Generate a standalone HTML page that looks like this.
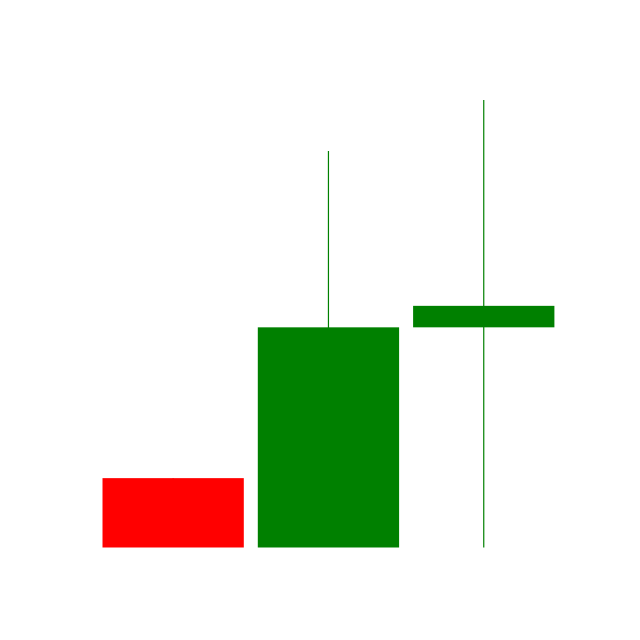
<!DOCTYPE html>
<html><head><meta charset="utf-8"><style>html,body{margin:0;padding:0;background:#fff;}svg{display:block;}</style></head>
<body>
<svg id="chart" width="640" height="640" xmlns="http://www.w3.org/2000/svg">
<rect width="640" height="640" fill="#fff"/>
<g id="marks"></g>
</svg>
<script>
const categories = ["c1","c2","c3"];
const openVals = [15.5, 0, 49.2];
const closeVals = [0, 49.2, 54.0];
const highVals = [15.5, 88.6, 100];
const lowVals = [0, 0, 0];

const x0 = 95.5, bandW = 155.3, pad = 7;
const yBase = 547.5, yTop = 100;
function xScale(i){ return x0 + i*bandW; }
function yScale(v){ return yBase - (v/100)*(yBase - yTop); }
const NS = "http://www.w3.org/2000/svg";
const g = document.getElementById("marks");
categories.forEach((c,i)=>{
  const up = closeVals[i] >= openVals[i];
  const col = up ? "#008000" : "#ff0000";
  const cx = xScale(i) + bandW/2;
  const wick = document.createElementNS(NS,"line");
  wick.setAttribute("x1",cx); wick.setAttribute("x2",cx);
  wick.setAttribute("y1",yScale(highVals[i])); wick.setAttribute("y2",yScale(lowVals[i]));
  wick.setAttribute("stroke",col); wick.setAttribute("stroke-width","1.2");
  
  
  g.appendChild(wick);
  const body = document.createElementNS(NS,"rect");
  const yA = yScale(Math.max(openVals[i],closeVals[i])), yB = yScale(Math.min(openVals[i],closeVals[i]));
  body.setAttribute("x", xScale(i)+pad); body.setAttribute("width", bandW-2*pad);
  body.setAttribute("y", yA); body.setAttribute("height", Math.max(1,yB-yA));
  body.setAttribute("fill", col);
  
  
  g.appendChild(body);
});
</script>
</body></html>
